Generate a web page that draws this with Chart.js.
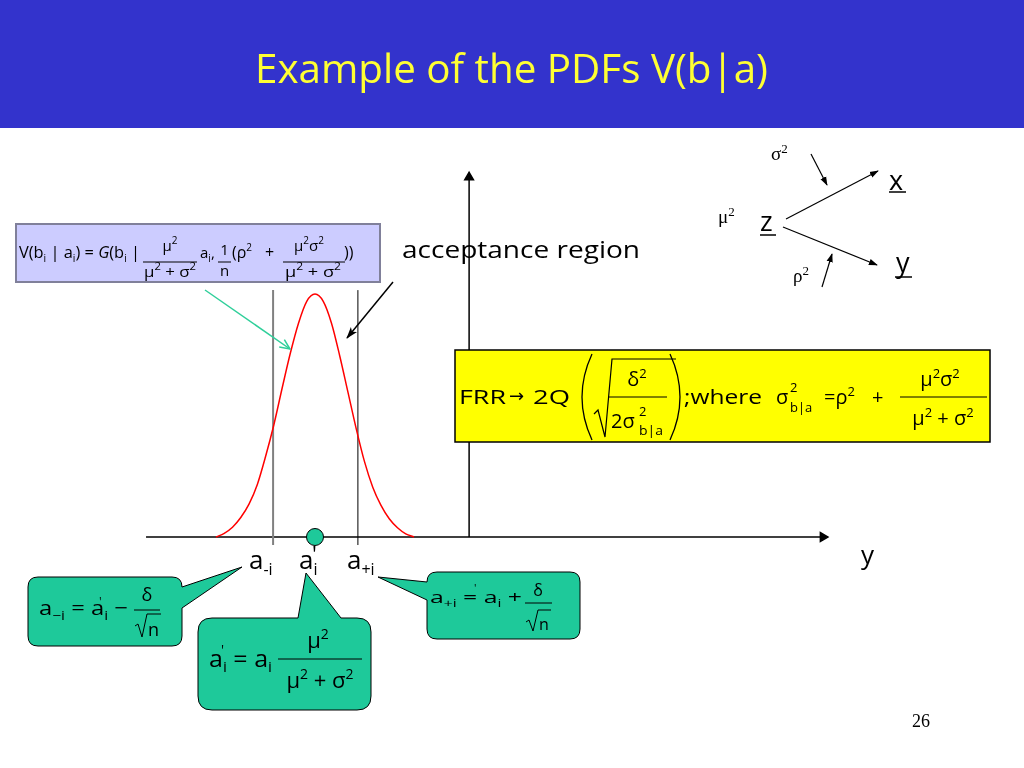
<!DOCTYPE html>
<html>
<head>
<meta charset="utf-8">
<title>Example of the PDFs V(b|a)</title>
<script src="https://cdn.jsdelivr.net/npm/chart.js@4.4.1/dist/chart.umd.min.js"></script>
<style>
  html, body { margin: 0; padding: 0; background: #fff; }
  #slide { position: relative; width: 1024px; height: 768px; overflow: hidden; }
  #pdfChart, #marks { position: absolute; left: 0; top: 0; }
  #marks { font-family: 'Open Sans', 'DejaVu Sans', sans-serif; }
  .serif { font-family: 'Liberation Serif', 'DejaVu Serif', serif; }
</style>
</head>
<body>
<div id="slide">
<canvas id="pdfChart" width="1024" height="768"></canvas>
<svg id="marks" width="1024" height="768">
  <defs>
    <marker id="ah" viewBox="0 0 10 10" refX="9" refY="5" markerWidth="9" markerHeight="9" markerUnits="userSpaceOnUse" orient="auto">
      <path d="M0,1.5 L10,5 L0,8.5 Z" fill="#000"/>
    </marker>
    <marker id="ahBlack" viewBox="0 0 12 12" refX="11" refY="6" markerWidth="12" markerHeight="12" markerUnits="userSpaceOnUse" orient="auto">
      <path d="M0,2 L12,6 L0,10 L3,6 Z" fill="#000"/>
    </marker>
    <marker id="ahGreen" viewBox="0 0 12 12" refX="11" refY="6" markerWidth="12" markerHeight="12" markerUnits="userSpaceOnUse" orient="auto">
      <path d="M1,1.5 L11,6 L1,10.5" fill="none" stroke="#2fcf9a" stroke-width="1.5"/>
    </marker>
  </defs>

  <!-- header -->
  <rect x="0" y="0" width="1024" height="128" fill="#3333cc"/>
  <text x="255" y="83" font-size="40" fill="#ffff33" textLength="513" lengthAdjust="spacingAndGlyphs">Example of the PDFs V(b|a)</text>

  <!-- V(b|a) formula box -->
  <rect x="16" y="224" width="364" height="58" fill="#ccccff" stroke="#80809a" stroke-width="2"/>
  <text x="19" y="258" font-size="16" textLength="121" lengthAdjust="spacingAndGlyphs">V(b<tspan dy="4" font-size="10">i</tspan><tspan dy="-4"> | a</tspan><tspan dy="4" font-size="10">i</tspan><tspan dy="-4">) = </tspan><tspan font-style="italic">G</tspan>(b<tspan dy="4" font-size="10">i</tspan><tspan dy="-4"> |</tspan></text>
  <text x="170" y="251" font-size="15" text-anchor="middle">μ<tspan dy="-7" font-size="10">2</tspan></text>
  <line x1="143" y1="262" x2="197" y2="262" stroke="#000" stroke-width="1"/>
  <text x="170" y="277" font-size="15" text-anchor="middle" textLength="52" lengthAdjust="spacingAndGlyphs">μ<tspan dy="-7" font-size="10">2</tspan><tspan dy="7"> + σ</tspan><tspan dy="-7" font-size="10">2</tspan></text>
  <text x="200" y="258" font-size="15">a<tspan dy="4" font-size="10">i</tspan><tspan dy="-4">,</tspan></text>
  <text x="224.5" y="255" font-size="15" text-anchor="middle">1</text>
  <line x1="218" y1="262" x2="231" y2="262" stroke="#000" stroke-width="1"/>
  <text x="224.5" y="276" font-size="15" text-anchor="middle">n</text>
  <text x="232" y="258" font-size="16">(ρ<tspan dy="-7" font-size="10">2</tspan></text>
  <text x="265" y="258" font-size="16">+</text>
  <text x="309" y="251" font-size="15" text-anchor="middle">μ<tspan dy="-7" font-size="10">2</tspan><tspan dy="7">σ</tspan><tspan dy="-7" font-size="10">2</tspan></text>
  <line x1="283" y1="262" x2="345" y2="262" stroke="#000" stroke-width="1"/>
  <text x="313" y="277" font-size="15" text-anchor="middle" textLength="56" lengthAdjust="spacingAndGlyphs">μ<tspan dy="-7" font-size="10">2</tspan><tspan dy="7"> + σ</tspan><tspan dy="-7" font-size="10">2</tspan></text>
  <text x="344" y="258" font-size="16">))</text>

  <text x="402" y="258" font-size="24" textLength="238" lengthAdjust="spacingAndGlyphs">acceptance region</text>
  <line x1="393" y1="282" x2="347" y2="338" stroke="#000" stroke-width="1.5" marker-end="url(#ahBlack)"/>
  <line x1="205" y1="290" x2="290" y2="349" stroke="#2fcf9a" stroke-width="1.5" marker-end="url(#ahGreen)"/>

  <!-- z -> x, y diagram -->
  <text class="serif" x="771" y="160" font-size="19">σ<tspan dy="-7" font-size="13">2</tspan></text>
  <text class="serif" x="718" y="223" font-size="19">μ<tspan dy="-7" font-size="13">2</tspan></text>
  <text class="serif" x="793" y="282" font-size="19">ρ<tspan dy="-7" font-size="13">2</tspan></text>
  <text x="889" y="190" font-size="27">x</text>
  <line x1="889" y1="192" x2="906" y2="192" stroke="#000" stroke-width="1.5"/>
  <text x="760" y="231" font-size="27">z</text>
  <line x1="760" y1="235" x2="776" y2="235" stroke="#000" stroke-width="1.5"/>
  <text x="896" y="272" font-size="27">y</text>
  <line x1="895" y1="277" x2="912" y2="277" stroke="#000" stroke-width="1.5"/>
  <line x1="811" y1="154" x2="827" y2="185" stroke="#000" stroke-width="1.2" marker-end="url(#ah)"/>
  <line x1="786" y1="219" x2="878" y2="171" stroke="#000" stroke-width="1.2" marker-end="url(#ah)"/>
  <line x1="783" y1="227" x2="877" y2="265" stroke="#000" stroke-width="1.2" marker-end="url(#ah)"/>
  <line x1="822" y1="287" x2="832" y2="254" stroke="#000" stroke-width="1.2" marker-end="url(#ah)"/>

  <!-- FRR box -->
  <rect x="455" y="350" width="535" height="92" fill="#ffff00" stroke="#000" stroke-width="1.5"/>
  <text x="459" y="404" font-size="20" textLength="47" lengthAdjust="spacingAndGlyphs">FRR</text>
  <text x="509" y="402" font-size="18">→</text>
  <text x="533" y="404" font-size="20" textLength="37" lengthAdjust="spacingAndGlyphs">2Q</text>
  <path d="M592,354 Q572,397 592,440" fill="none" stroke="#000" stroke-width="1.3"/>
  <path d="M594,414 L598,410 L605,437 L612,359 L676,359" fill="none" stroke="#000" stroke-width="1.2"/>
  <text x="637" y="386" font-size="20" text-anchor="middle">δ<tspan dy="-8" font-size="13">2</tspan></text>
  <line x1="609" y1="397" x2="667" y2="397" stroke="#000" stroke-width="1"/>
  <text x="611" y="428" font-size="20">2σ</text>
  <text x="639" y="416" font-size="13">2</text>
  <text x="639" y="435" font-size="13" textLength="24" lengthAdjust="spacingAndGlyphs">b|a</text>
  <path d="M670,354 Q690,397 670,440" fill="none" stroke="#000" stroke-width="1.3"/>
  <text x="684" y="404" font-size="20" textLength="78" lengthAdjust="spacingAndGlyphs">;where</text>
  <text x="776" y="404" font-size="20">σ</text>
  <text x="790" y="392" font-size="13">2</text>
  <text x="790" y="412" font-size="13">b|a</text>
  <text x="824" y="404" font-size="20">=ρ<tspan dy="-8" font-size="13">2</tspan></text>
  <text x="872" y="404" font-size="20">+</text>
  <text x="940" y="386" font-size="20" text-anchor="middle">μ<tspan dy="-8" font-size="13">2</tspan><tspan dy="8">σ</tspan><tspan dy="-8" font-size="13">2</tspan></text>
  <line x1="900" y1="397" x2="987" y2="397" stroke="#000" stroke-width="1"/>
  <text x="943" y="425" font-size="20" text-anchor="middle">μ<tspan dy="-8" font-size="13">2</tspan><tspan dy="8"> + σ</tspan><tspan dy="-8" font-size="13">2</tspan></text>

  <!-- axis labels -->
  <text x="249" y="569" font-size="26">a<tspan dy="6" font-size="16">-i</tspan></text>
  <text x="299" y="569" font-size="26">a<tspan dy="6" font-size="16">i</tspan></text>
  <text x="312" y="562" font-size="22">'</text>
  <text x="347" y="569" font-size="26">a<tspan dy="6" font-size="16">+i</tspan></text>
  <text x="861" y="564" font-size="26">y</text>

  <!-- callouts -->
  <path d="M38,577 H172 Q182,577 182,587 L242,567 L182,608 V636 Q182,646 172,646 H38 Q28,646 28,636 V587 Q28,577 38,577 Z" fill="#1ec99a" stroke="#000" stroke-width="1"/>
  <text x="39" y="615" font-size="20" textLength="89" lengthAdjust="spacingAndGlyphs">a<tspan dy="5" font-size="13">−i</tspan><tspan dy="-5"> = a</tspan><tspan dy="5" font-size="13">i</tspan><tspan dy="-5"> −</tspan></text>
  <text x="99" y="606" font-size="12">'</text>
  <text x="147" y="601" font-size="18" text-anchor="middle">δ</text>
  <line x1="134" y1="610" x2="160" y2="610" stroke="#000" stroke-width="1"/>
  <path d="M135,626 L138,624 L142,637 L147,614 L161,614" fill="none" stroke="#000" stroke-width="1"/>
  <text x="148" y="636" font-size="18">n</text>

  <path d="M212,618 H298 L306,573 L341,618 H357 Q371,618 371,632 V696 Q371,710 357,710 H212 Q198,710 198,696 V632 Q198,618 212,618 Z" fill="#1ec99a" stroke="#000" stroke-width="1"/>
  <text x="209" y="667" font-size="24" textLength="63" lengthAdjust="spacingAndGlyphs">a<tspan dy="5" font-size="15">i</tspan><tspan dy="-5"> = a</tspan><tspan dy="5" font-size="15">i</tspan></text>
  <text x="221" y="655" font-size="14">'</text>
  <text x="318" y="648" font-size="22" text-anchor="middle">μ<tspan dy="-9" font-size="14">2</tspan></text>
  <line x1="278" y1="659" x2="362" y2="659" stroke="#000" stroke-width="1"/>
  <text x="320" y="688" font-size="22" text-anchor="middle">μ<tspan dy="-9" font-size="14">2</tspan><tspan dy="9"> + σ</tspan><tspan dy="-9" font-size="14">2</tspan></text>

  <path d="M437,572 H570 Q580,572 580,582 V629 Q580,639 570,639 H437 Q427,639 427,629 V600 L378,577 L427,582 Q427,572 437,572 Z" fill="#1ec99a" stroke="#000" stroke-width="1"/>
  <text x="430" y="603" font-size="16" textLength="92" lengthAdjust="spacingAndGlyphs">a<tspan dy="4" font-size="10">+i</tspan><tspan dy="-4"> = a</tspan><tspan dy="4" font-size="10">i</tspan><tspan dy="-4">  +</tspan></text>
  <text x="474" y="592" font-size="11">'</text>
  <text x="538" y="596" font-size="16" text-anchor="middle">δ</text>
  <line x1="525" y1="603" x2="552" y2="603" stroke="#000" stroke-width="1"/>
  <path d="M526,622 L529,620 L533,631 L538,610 L551,610" fill="none" stroke="#000" stroke-width="1"/>
  <text x="539" y="630" font-size="16">n</text>

  <text class="serif" x="912" y="727" font-size="18">26</text>
</svg>
</div>
<script>
// red curve V(b|a); x in units of sigma around a'_i, y relative to the peak
const curveX = [-3.0, -2.75, -2.5, -2.25, -2.0, -1.75, -1.5, -1.25, -1.0, -0.75, -0.5, -0.25, 0,
                0.25, 0.5, 0.75, 1.0, 1.25, 1.5, 1.75, 2.0, 2.25, 2.5, 2.75, 3.0];
const curveY = [0.0, 0.015, 0.04, 0.08, 0.135, 0.215, 0.33, 0.46, 0.61, 0.755, 0.88, 0.97, 1.0,
                0.97, 0.88, 0.745, 0.595, 0.445, 0.31, 0.205, 0.13, 0.075, 0.038, 0.013, 0.0];

// acceptance region limits and a'_i
const aMinus = -1.27;
const aPrime = 0;
const aPlus = 1.30;
const limitY = [-0.033, 1.016];

// the b axis and the vertical axis
const xAxisEnds = [-5.12, 15.39];
const yAxisAt = 4.67;
const yAxisEnds = [0, 1.48];

const pts = (xs, ys) => xs.map((x, i) => ({ x: x, y: ys[i] }));

const ctx = document.getElementById('pdfChart').getContext('2d');
new Chart(ctx, {
    type: 'scatter',
    data: {
        datasets: [
            {
                label: "a'i",
                data: [{ x: aPrime, y: 0 }],
                pointRadius: 8.5,
                backgroundColor: '#1ec99a',
                borderColor: '#000',
                borderWidth: 1,
                order: 0
            },
            {
                label: 'V(b|a)',
                data: pts(curveX, curveY),
                showLine: true,
                borderColor: '#ff0000',
                borderWidth: 1.5,
                pointRadius: 0,
                cubicInterpolationMode: 'monotone',
                order: 1
            },
            {
                label: 'a-i',
                data: pts([aMinus, aMinus], limitY),
                showLine: true,
                borderColor: '#808080',
                borderWidth: 2,
                pointRadius: 0,
                order: 2
            },
            {
                label: 'a+i',
                data: pts([aPlus, aPlus], limitY),
                showLine: true,
                borderColor: '#000',
                borderWidth: 1,
                pointRadius: 0,
                order: 2
            },
            {
                label: 'y axis',
                data: pts(xAxisEnds, [0, 0]),
                showLine: true,
                borderColor: '#000',
                backgroundColor: '#000',
                borderWidth: 1.5,
                pointRadius: [0, 5],
                pointStyle: 'triangle',
                pointRotation: 90,
                order: 3
            },
            {
                label: 'vertical axis',
                data: pts([yAxisAt, yAxisAt], yAxisEnds),
                showLine: true,
                borderColor: '#000',
                backgroundColor: '#000',
                borderWidth: 1.5,
                pointRadius: [0, 5],
                pointStyle: 'triangle',
                pointRotation: 0,
                order: 3
            }
        ]
    },
    options: {
        responsive: false,
        animation: false,
        events: [],
        layout: { padding: { left: 143.4, right: 187.6, top: 167.64, bottom: 206.7 } },
        scales: {
            x: { type: 'linear', display: false, min: -5.2, max: 15.8 },
            y: { type: 'linear', display: false, min: -0.1, max: 1.52 }
        },
        plugins: {
            legend: { display: false },
            tooltip: { enabled: false }
        }
    }
});
</script>
</body>
</html>
